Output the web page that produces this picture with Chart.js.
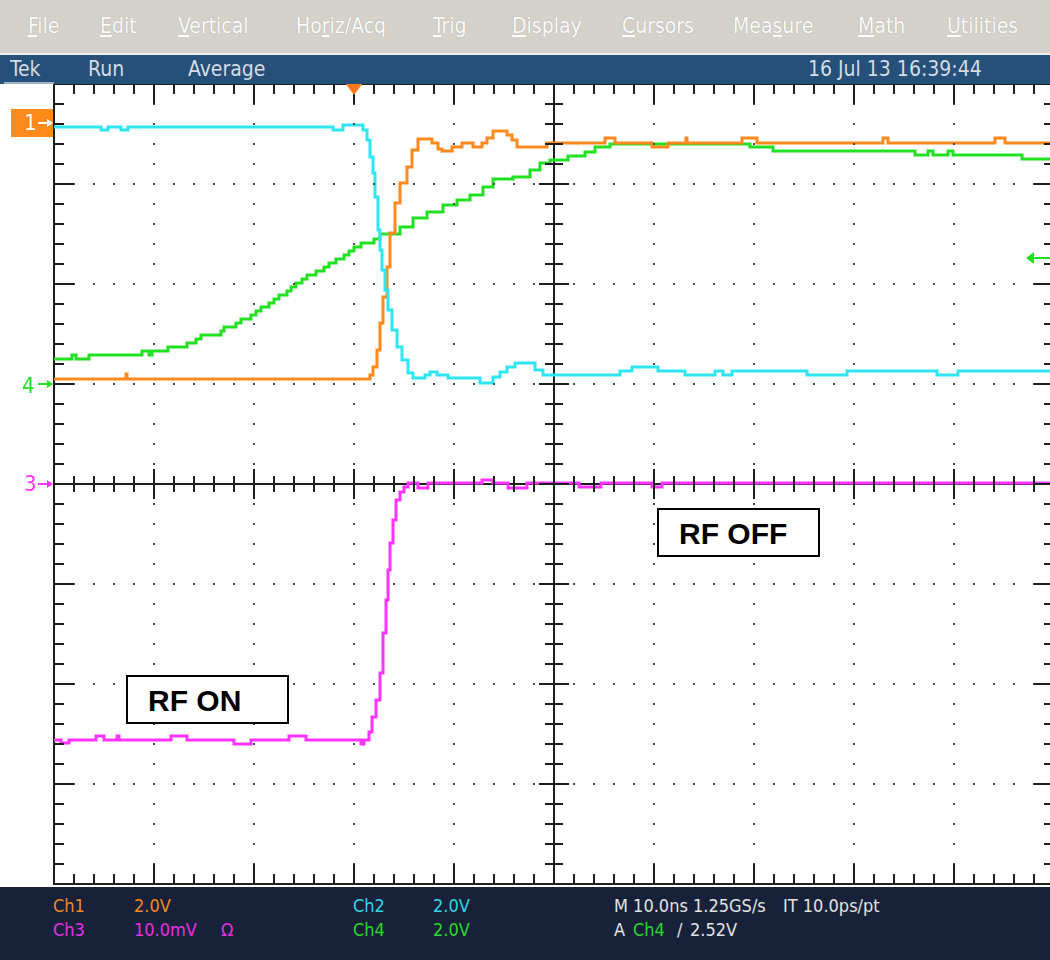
<!DOCTYPE html>
<html>
<head>
<meta charset="utf-8">
<script src="https://cdn.jsdelivr.net/npm/chart.js@4/dist/chart.umd.min.js"></script>
<style>
html, body { margin: 0; padding: 0; width: 1050px; height: 960px; overflow: hidden; background: #fff; }
#wrap { position: relative; width: 1050px; height: 960px; overflow: hidden; }
#scope { position: absolute; left: 0; top: 0; }
.bar { position: absolute; left: 0; width: 1050px; }
#menu { top: 0; height: 53px; background: #d4d1cb; border-bottom: 2px solid #eeeeee; }
#status { top: 55px; height: 29px; background: #24507a; }
#foot { top: 887px; height: 73px; background: #17223a; }
.t { position: absolute; white-space: nowrap; font-family: "DejaVu Sans Condensed", "Liberation Sans", sans-serif; }
#menu .t { top: 14px; font-size: 21px; color: #fbfbfb; text-shadow: 0 0 1px #9c9890; }
#menu u { text-decoration-color: #fbfbfb; }
#status .t { top: 2px; font-size: 21px; color: #d6dbe2; }
#tekline { position: absolute; left: 4px; top: 27px; width: 50px; height: 2px; background: #9fb4c8; }
#foot .t { font-size: 18px; color: #e2e2e2; }
.r1 { top: 8px; }
.r2 { top: 32px; }
.c1 { color: #f08a22 !important; }
.c2 { color: #2fd6e6 !important; }
.c3 { color: #e630e6 !important; }
.c4 { color: #2ad82a !important; }
.note { position: absolute; background: #fff; border: 2px solid #000; box-sizing: border-box;
        font-family: "Liberation Sans", Arial, sans-serif; font-weight: bold; font-size: 30px; color: #000;
        padding-left: 20px; line-height: 47px; }
</style>
</head>
<body>
<div id="wrap">
  <canvas id="scope" width="1060" height="960"></canvas>

  <div class="bar" id="menu">
    <span class="t" style="left:28px"><u>F</u>ile</span>
    <span class="t" style="left:100px"><u>E</u>dit</span>
    <span class="t" style="left:178px"><u>V</u>ertical</span>
    <span class="t" style="left:296px">Ho<u>r</u>iz/Acq</span>
    <span class="t" style="left:433px"><u>T</u>rig</span>
    <span class="t" style="left:512px"><u>D</u>isplay</span>
    <span class="t" style="left:622px"><u>C</u>ursors</span>
    <span class="t" style="left:733px">Mea<u>s</u>ure</span>
    <span class="t" style="left:858px"><u>M</u>ath</span>
    <span class="t" style="left:947px"><u>U</u>tilities</span>
  </div>

  <div class="bar" id="status">
    <span class="t" style="left:10px">Tek</span>
    <span class="t" style="left:88px">Run</span>
    <span class="t" style="left:188px">Average</span>
    <span class="t" style="left:808px">16 Jul 13 16:39:44</span>
    <div id="tekline"></div>
  </div>

  <div class="bar" id="foot">
    <span class="t r1 c1" style="left:53px">Ch1</span>
    <span class="t r1 c1" style="left:134px">2.0V</span>
    <span class="t r1 c2" style="left:353px">Ch2</span>
    <span class="t r1 c2" style="left:433px">2.0V</span>
    <span class="t r1" style="left:614px">M 10.0ns 1.25GS/s</span>
    <span class="t r1" style="left:783px">IT 10.0ps/pt</span>
    <span class="t r2 c3" style="left:53px">Ch3</span>
    <span class="t r2 c3" style="left:134px">10.0mV</span>
    <span class="t r2 c3" style="left:221px">Ω</span>
    <span class="t r2 c4" style="left:353px">Ch4</span>
    <span class="t r2 c4" style="left:433px">2.0V</span>
    <span class="t r2" style="left:614px">A</span>
    <span class="t r2 c4" style="left:633px">Ch4</span>
    <span class="t r2" style="left:677px">/</span>
    <span class="t r2" style="left:690px">2.52V</span>
  </div>

  <div class="note" style="left:126px; top:675px; width:163px; height:49px;">RF ON</div>
  <div class="note" style="left:657px; top:508px; width:163px; height:49px;">RF OFF</div>
</div>

<script>
// Oscilloscope traces: time in ns (trigger = 0), level in screen divisions (centre = 0)
const ch1Time = [-30, -22.9, -22.8, -22.7, 0.9, 1.6, 1.9, 2.3, 2.6, 2.9, 3.3, 3.6, 4.1, 4.6, 5.3, 5.8, 6.4, 7.3, 7.8, 8.4, 8.8, 9.4, 9.8, 10.4, 10.8, 11.4, 11.9, 12.5, 12.8, 13.3, 13.9, 14.6, 15.3, 15.8, 16.3, 18.9, 19.3, 24.9, 25.1, 25.9, 26.1, 29.6, 29.8, 31.3, 31.4, 33.1, 33.2, 33.3, 38.6, 38.8, 40.1, 40.3, 52.8, 52.9, 53.3, 53.4, 63.9, 64.1, 64.9, 65.1, 70];
const ch1Div  = [1.05, 1.05, 1.10, 1.05, 1.05, 1.09, 1.17, 1.34, 1.61, 1.87, 2.17, 2.51, 2.81, 3.01, 3.17, 3.34, 3.45, 3.45, 3.41, 3.35, 3.33, 3.33, 3.37, 3.37, 3.41, 3.41, 3.37, 3.37, 3.41, 3.46, 3.53, 3.53, 3.49, 3.44, 3.37, 3.37, 3.41, 3.41, 3.46, 3.46, 3.41, 3.41, 3.37, 3.37, 3.41, 3.41, 3.46, 3.41, 3.41, 3.46, 3.46, 3.41, 3.41, 3.46, 3.46, 3.41, 3.41, 3.46, 3.46, 3.41, 3.41];

const ch2Time = [-30, -25.5, -25.3, -24.8, -24.6, -23.5, -23.3, -22.8, -22.6, -2.4, -2.1, -1.2, -1.1, 0.6, 0.9, 1.3, 1.6, 1.9, 2.1, 2.4, 2.6, 2.8, 3.1, 3.4, 3.8, 4.3, 4.8, 5.4, 5.9, 6.6, 7.1, 7.6, 8.3, 9.4, 12.3, 12.6, 13.3, 13.9, 14.6, 15.3, 16.1, 17.4, 18.1, 18.9, 26.4, 26.6, 27.6, 27.8, 30.1, 30.4, 32.9, 33.1, 35.9, 36.1, 36.8, 36.9, 37.6, 37.8, 45.1, 45.3, 49.1, 49.3, 58.1, 58.3, 60.3, 60.4, 70];
const ch2Div  = [3.57, 3.57, 3.54, 3.54, 3.57, 3.57, 3.54, 3.54, 3.57, 3.57, 3.54, 3.54, 3.59, 3.59, 3.54, 3.44, 3.27, 3.11, 2.87, 2.54, 2.34, 2.14, 1.94, 1.74, 1.54, 1.37, 1.24, 1.11, 1.06, 1.06, 1.09, 1.12, 1.09, 1.06, 1.06, 1.01, 1.01, 1.07, 1.12, 1.17, 1.21, 1.21, 1.14, 1.09, 1.09, 1.13, 1.13, 1.17, 1.17, 1.13, 1.13, 1.09, 1.09, 1.13, 1.13, 1.09, 1.09, 1.13, 1.13, 1.09, 1.09, 1.13, 1.13, 1.09, 1.09, 1.13, 1.13];

const ch3Time = [-30, -29.3, -28.7, -28.5, -26, -25.8, -25.2, -25, -23.8, -23.7, -23.5, -18.5, -18.3, -16.8, -16.7, -12.2, -12, -10.7, -10.3, -6.7, -6.5, -5, -4.8, 0.3, 0.7, 1, 1.5, 1.8, 2.2, 2.6, 2.9, 3.2, 3.4, 3.6, 3.9, 4.2, 4.6, 5.0, 5.4, 6.3, 6.4, 7.3, 7.4, 12.6, 12.8, 13.8, 13.9, 15.3, 15.4, 17.1, 17.3, 22.3, 22.5, 24.5, 24.7, 29.6, 29.8, 30.6, 30.8, 70];
const ch3Div  = [-2.56, -2.59, -2.59, -2.56, -2.56, -2.52, -2.52, -2.56, -2.56, -2.52, -2.56, -2.56, -2.52, -2.52, -2.56, -2.56, -2.60, -2.60, -2.56, -2.56, -2.52, -2.52, -2.56, -2.56, -2.60, -2.56, -2.48, -2.33, -2.16, -1.89, -1.49, -1.16, -0.86, -0.59, -0.36, -0.16, -0.08, -0.03, 0.01, 0.01, -0.04, -0.04, 0.01, 0.01, 0.04, 0.04, 0.01, 0.01, -0.04, -0.04, 0.01, 0.01, -0.03, -0.03, 0.01, 0.01, -0.03, -0.03, 0.01, 0.01];

const ch4Time = [-30, -28.3, -28.2, -27.8, -26.7, -26.5, -21.5, -21.2, -20.7, -20.5, -20.2, -18.8, -18.6, -16.8, -16.7, -15.8, -15.3, -13.7, -13.3, -13, -11.8, -11.3, -10.3, -9.8, -9.3, -8.5, -8, -7.5, -6.7, -6.3, -5.8, -5.2, -4.7, -3.8, -3, -2.5, -1.8, -1, -0.5, 0, 0.7, 2.0, 2.6, 3.6, 4.6, 5.9, 7.3, 8.9, 10.3, 11.6, 12.9, 13.9, 15.9, 17.6, 18.6, 19.6, 21.4, 23.1, 24.1, 25.6, 38.6, 39.6, 41.6, 41.9, 55.9, 56.1, 57.3, 57.4, 57.8, 57.9, 59.3, 59.4, 59.8, 59.9, 66.6, 66.8, 70];
const ch4Div  = [1.25, 1.25, 1.29, 1.25, 1.25, 1.29, 1.29, 1.33, 1.33, 1.29, 1.33, 1.33, 1.37, 1.37, 1.41, 1.45, 1.49, 1.49, 1.53, 1.57, 1.61, 1.65, 1.69, 1.73, 1.77, 1.81, 1.85, 1.89, 1.93, 1.97, 2.01, 2.05, 2.09, 2.13, 2.17, 2.21, 2.25, 2.29, 2.33, 2.37, 2.41, 2.45, 2.50, 2.50, 2.57, 2.66, 2.72, 2.79, 2.84, 2.89, 2.97, 3.05, 3.07, 3.14, 3.21, 3.24, 3.28, 3.32, 3.37, 3.40, 3.40, 3.37, 3.37, 3.33, 3.33, 3.29, 3.29, 3.33, 3.33, 3.29, 3.29, 3.33, 3.33, 3.29, 3.29, 3.25, 3.25];

// graticule: 10 horizontal divisions of 10 ns, 8 vertical divisions
const timeRange = [-30, 70];
const divRange = [-4, 4];
const centreTime = 20;

// channel reference markers and trigger
const ch1Ref = 3.61;
const ch4Ref = 1.0;
const ch3Ref = 0;
const trigLevel = 2.26;
const trigTime = 0;

const COLORS = {
    ch1: '#ff8a1c',
    ch2: '#2ee6f2',
    ch3: '#ff33ff',
    ch4: '#22e022',
    axis: '#1e1e1e',
    dot: '#4a4a4a',
    trig: '#ff7a1a',
};

const toPoints = (t, v) => t.map((x, i) => ({ x, y: v[i] }));

const trace = (label, t, v, color) => ({
    label,
    data: toPoints(t, v),
    borderColor: color,
    borderWidth: 3,
    pointRadius: 0,
    stepped: true,
    fill: false,
});

function arrowRight(ctx, x0, x1, y, color) {
    ctx.strokeStyle = color;
    ctx.fillStyle = color;
    ctx.lineWidth = 2;
    ctx.beginPath();
    ctx.moveTo(x0, y); ctx.lineTo(x1 - 4, y);
    ctx.stroke();
    ctx.beginPath();
    ctx.moveTo(x1, y); ctx.lineTo(x1 - 6, y - 4); ctx.lineTo(x1 - 6, y + 4);
    ctx.closePath(); ctx.fill();
}

// Draws the scope graticule: frame, centre cross, dotted division lines and ticks
const graticule = {
    id: 'graticule',
    beforeDatasetsDraw(chart) {
        const { ctx, chartArea: a, scales: { x, y } } = chart;
        const cx = Math.round(x.getPixelForValue(centreTime));
        const cy = Math.round(y.getPixelForValue(0));
        ctx.save();
        ctx.strokeStyle = COLORS.axis;
        ctx.lineWidth = 2;
        ctx.strokeRect(a.left, a.top, a.right - a.left, a.bottom - a.top);
        ctx.beginPath();
        ctx.moveTo(cx, a.top); ctx.lineTo(cx, a.bottom);
        ctx.moveTo(a.left, cy); ctx.lineTo(a.right, cy);
        ctx.stroke();
        ctx.restore();
    },
    afterDatasetsDraw(chart) {
        const { ctx, chartArea: a, scales: { x, y } } = chart;
        const cx = Math.round(x.getPixelForValue(centreTime));
        const cy = Math.round(y.getPixelForValue(0));
        ctx.save();

        // dots along division lines
        ctx.fillStyle = COLORS.dot;
        for (let i = 1; i < 10; i++) {
            if (i === 5) continue;
            const px = Math.round(x.getPixelForValue(timeRange[0] + i * 10));
            for (let j = 1; j < 40; j++) {
                const py = Math.round(y.getPixelForValue(divRange[0] + j * 0.2));
                ctx.fillRect(px - 1, py - 1, 2, 2);
            }
        }
        for (let j = 1; j < 8; j++) {
            if (j === 4) continue;
            const py = Math.round(y.getPixelForValue(divRange[0] + j));
            for (let i = 1; i < 50; i++) {
                const px = Math.round(x.getPixelForValue(timeRange[0] + i * 2));
                ctx.fillRect(px - 1, py - 1, 2, 2);
            }
        }

        // ticks
        ctx.strokeStyle = COLORS.axis;
        ctx.lineWidth = 2;
        ctx.beginPath();
        for (let i = 1; i < 50; i++) {
            const px = Math.round(x.getPixelForValue(timeRange[0] + i * 2));
            const major = i % 5 === 0;
            const e = major ? 20 : 10;
            const c = major ? 15 : 8;
            ctx.moveTo(px, a.top); ctx.lineTo(px, a.top + e);
            ctx.moveTo(px, a.bottom); ctx.lineTo(px, a.bottom - e);
            ctx.moveTo(px, cy - c); ctx.lineTo(px, cy + c);
        }
        for (let j = 1; j < 40; j++) {
            const py = Math.round(y.getPixelForValue(divRange[0] + j * 0.2));
            const major = j % 5 === 0;
            const e = major ? 20 : 10;
            const c = major ? 15 : 9;
            ctx.moveTo(a.left, py); ctx.lineTo(a.left + e, py);
            ctx.moveTo(a.right, py); ctx.lineTo(a.right - e, py);
            ctx.moveTo(cx - c, py); ctx.lineTo(cx + c, py);
        }
        ctx.stroke();
        ctx.restore();
    },
    afterDraw(chart) {
        const { ctx, chartArea: a, scales: { x, y } } = chart;
        ctx.save();
        ctx.font = '22px "DejaVu Sans Condensed", sans-serif';
        ctx.textBaseline = 'middle';

        // Ch1 marker: orange tab
        const y1 = Math.round(y.getPixelForValue(ch1Ref));
        ctx.fillStyle = COLORS.ch1;
        ctx.fillRect(11, y1 - 14, 42, 28);
        ctx.fillStyle = '#fff';
        ctx.fillText('1', 24, y1 + 1);
        arrowRight(ctx, 38, 53, y1, '#fff');

        // Ch4 marker
        const y4 = Math.round(y.getPixelForValue(ch4Ref));
        ctx.fillStyle = COLORS.ch4;
        ctx.fillText('4', 22, y4 + 3);
        arrowRight(ctx, 38, 53, y4, COLORS.ch4);

        // Ch3 marker
        const y3 = Math.round(y.getPixelForValue(ch3Ref));
        ctx.fillStyle = COLORS.ch3;
        ctx.fillText('3', 24, y3 + 1);
        arrowRight(ctx, 38, 53, y3, COLORS.ch3);

        // trigger level arrow on the right edge
        const yt = Math.round(y.getPixelForValue(trigLevel));
        ctx.strokeStyle = COLORS.ch4;
        ctx.fillStyle = COLORS.ch4;
        ctx.lineWidth = 2;
        ctx.beginPath();
        ctx.moveTo(1033, yt); ctx.lineTo(a.right, yt);
        ctx.stroke();
        ctx.beginPath();
        ctx.moveTo(1026, yt); ctx.lineTo(1034, yt - 6); ctx.lineTo(1034, yt + 6);
        ctx.closePath(); ctx.fill();

        // trigger position marker at the top
        const xt = Math.round(x.getPixelForValue(trigTime));
        ctx.fillStyle = COLORS.trig;
        ctx.beginPath();
        ctx.moveTo(xt - 9, a.top - 1); ctx.lineTo(xt + 9, a.top - 1); ctx.lineTo(xt, a.top + 11);
        ctx.closePath(); ctx.fill();
        ctx.restore();
    }
};

const ctx = document.getElementById('scope').getContext('2d');
new Chart(ctx, {
    type: 'line',
    data: {
        datasets: [
            trace('Ch3', ch3Time, ch3Div, COLORS.ch3),
            trace('Ch2', ch2Time, ch2Div, COLORS.ch2),
            trace('Ch1', ch1Time, ch1Div, COLORS.ch1),
            trace('Ch4', ch4Time, ch4Div, COLORS.ch4),
        ]
    },
    options: {
        responsive: false,
        animation: false,
        layout: { padding: { left: 54, top: 84, right: 6, bottom: 76 } },
        scales: {
            x: { type: 'linear', min: timeRange[0], max: timeRange[1], display: false },
            y: { type: 'linear', min: divRange[0], max: divRange[1], display: false },
        },
        plugins: {
            legend: { display: false },
            tooltip: { enabled: false },
        },
    },
    plugins: [graticule],
});
</script>
</body>
</html>
